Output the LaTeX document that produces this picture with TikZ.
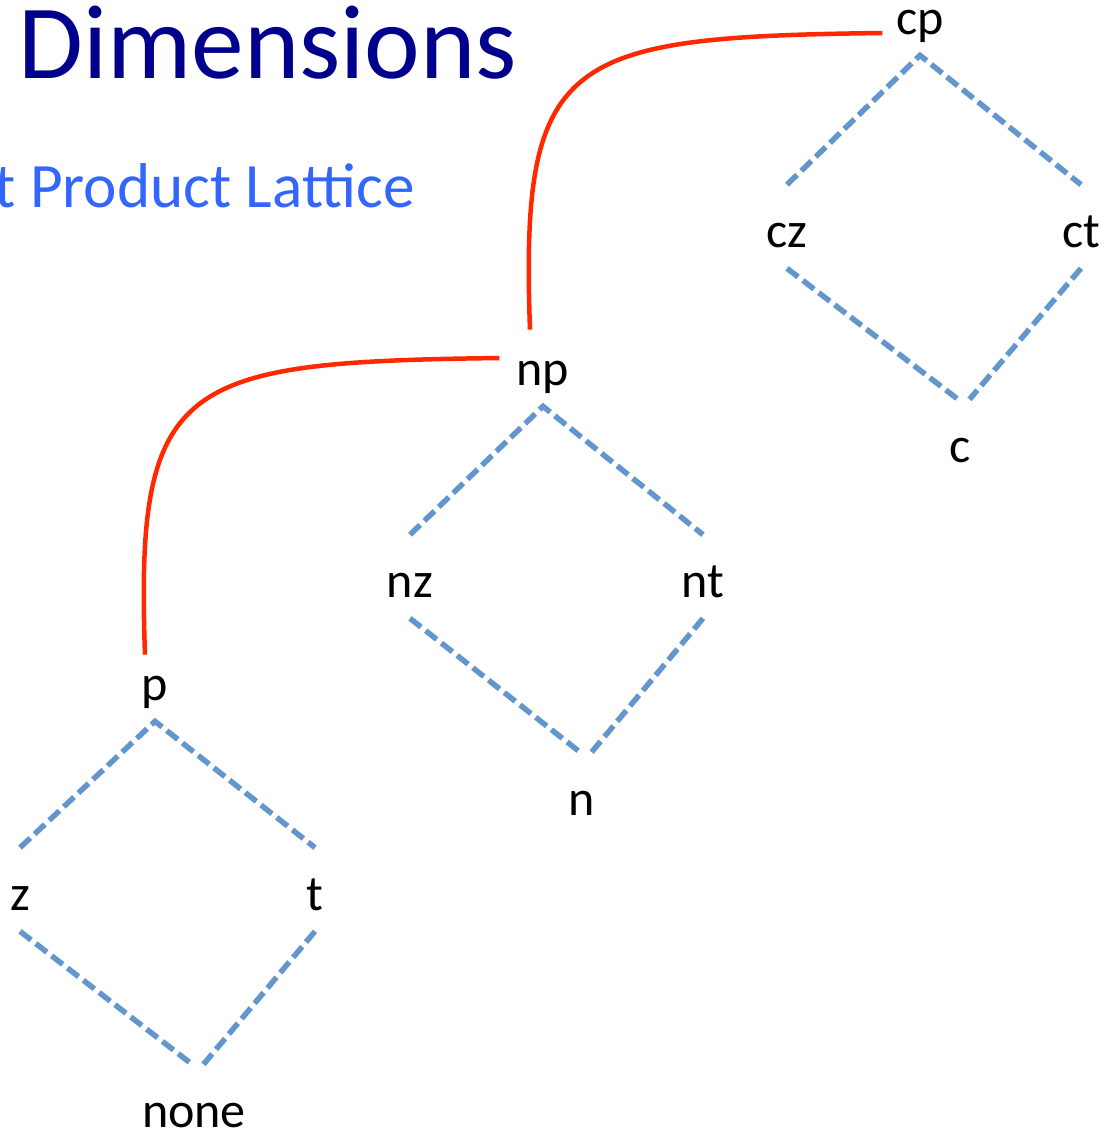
\documentclass[tikz,border=0pt]{standalone}
\usepackage{fontspec}
\setmainfont{Carlito}
\definecolor{titlenavy}{RGB}{0,0,140}
\definecolor{subblue}{RGB}{51,102,255}
\definecolor{latblue}{RGB}{98,150,205}
\definecolor{chainred}{RGB}{255,40,0}
\tikzset{
  elem/.style={inner sep=0pt, anchor=base, text height=1.24cm, text depth=0.42cm,
    font=\fontsize{28.5}{34}\selectfont},
  latedge/.style={latblue, line width=0.11cm, dash pattern=on 0.28cm off 0.12cm},
  chain/.style={chainred, line width=0.09cm}
}

\begin{document}
\begin{tikzpicture}[x=0.02cm,y=-0.02cm]
\useasboundingbox (0,0) rectangle (1111,1134);

% --- Titles ---
\node[titlenavy, anchor=base west, inner sep=0pt, font=\fontsize{60}{72}\selectfont] (title) at (18,78) {Dimensions};
\node[subblue, anchor=base east, inner sep=0pt, font=\fontsize{36}{43}\selectfont] (subtitle) at (415,207) {t Product Lattice};

% --- Lattice elements ---
\node[elem, text height=0.6cm] (cp) at (920,34) {cp};
\node[elem] (cz) at (787,247) {cz};
\node[elem] (ct) at (1081,247) {ct};
\node[elem] (c) at (960,462) {c};

\node[elem] (np) at (543,385) {np};
\node[elem] (nz) at (410,597) {nz};
\node[elem] (nt) at (703,597) {nt};
\node[elem] (n) at (582,815) {n};

\node[elem] (p) at (155,700) {p};
\node[elem] (z) at (20,910) {z};
\node[elem] (t) at (315,910) {t};
\node[elem, text depth=0.1cm] (none) at (194,1127) {none};

% --- Orderings ---
\draw[latedge] (cz.north) -- (cp.south) -- (ct.north);
\draw[latedge, shorten >=0.14cm] (cz.south) -- ([xshift=0.1cm,yshift=-0.1cm]c.north);
\draw[latedge, shorten >=0.14cm] (ct.south) -- ([xshift=0.1cm,yshift=-0.1cm]c.north);

\draw[latedge] (nz.north) -- (np.south) -- (nt.north);
\draw[latedge, shorten >=0.14cm] (nz.south) -- ([xshift=0.1cm,yshift=-0.1cm]n.north);
\draw[latedge, shorten >=0.14cm] (nt.south) -- ([xshift=0.1cm,yshift=-0.1cm]n.north);

\draw[latedge] (z.north) -- (p.south) -- (t.north);
\draw[latedge, shorten >=0.14cm] (z.south) -- ([xshift=0.1cm,yshift=-0.1cm]none.north);
\draw[latedge, shorten >=0.14cm] (t.south) -- ([xshift=0.1cm,yshift=-0.1cm]none.north);

% --- Embeddings ---
\draw[chain] ([xshift=-0.2cm,yshift=-0.34cm]p.north) .. controls +(-10,-275) and +(-320,4) .. ([xshift=-0.34cm,yshift=0.13cm]np.west);
\draw[chain] ([xshift=-0.26cm,yshift=-0.14cm]np.north) .. controls +(-10,-275) and +(-318,4) .. ([xshift=-0.27cm,yshift=-0.07cm]cp.west);

\end{tikzpicture}
\end{document}
